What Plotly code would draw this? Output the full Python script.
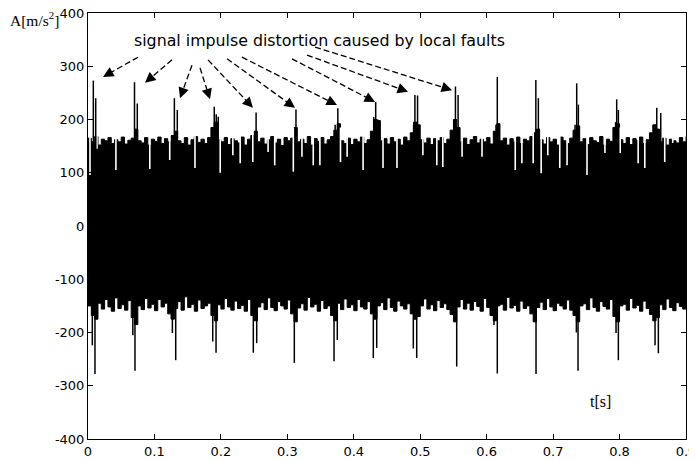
import plotly.graph_objects as go

# ---------------- data ----------------
env_step = 0.005  # s, sampling of the band envelopes
upper_env = [
    165, 158, 168, 152, 163, 160, 166, 155, 162, 158,
    167, 154, 161, 165, 182, 160, 156, 166, 152, 163,
    159, 167, 155, 164, 158, 170, 178, 160, 155, 166,
    152, 162, 168, 157, 163, 155, 166, 185, 195, 162,
    158, 166, 153, 164, 160, 156, 167, 152, 163, 170,
    178, 158, 165, 154, 162, 168, 156, 163, 151, 166,
    160, 165, 185, 158, 163, 155, 168, 152, 164, 159,
    166, 154, 162, 168, 180, 192, 160, 155, 165, 153,
    163, 158, 167, 155, 162, 178, 200, 198, 160, 164,
    154, 166, 158, 163, 152, 167, 160, 175, 195, 190,
    162, 156, 165, 153, 164, 160, 166, 155, 163, 180,
    200, 185, 158, 165, 153, 162, 168, 156, 163, 158,
    166, 154, 178, 192, 160, 165, 152, 164, 158, 167,
    155, 163, 160, 168, 175, 182, 162, 154, 166, 158,
    163, 152, 167, 160, 155, 165, 180, 188, 158, 164,
    153, 166, 160, 157, 168, 152, 163, 159, 185, 192,
    162, 155, 166, 153, 164, 160, 167, 155, 162, 175,
    190, 182, 158, 165, 152, 163, 160, 156, 166, 158, 168,
]
lower_env = [
    -150, -168, -175, -145, -156, -138, -152, -160, -135, -155,
    -148, -158, -140, -172, -185, -150, -157, -136, -154, -147,
    -159, -138, -152, -145, -165, -175, -155, -142, -158, -133,
    -153, -147, -160, -139, -155, -150, -145, -168, -178, -148,
    -156, -136, -152, -158, -141, -155, -149, -160, -138, -168,
    -178, -152, -144, -157, -135, -153, -159, -142, -150, -156,
    -139, -165, -180, -154, -146, -158, -134, -152, -147, -160,
    -140, -155, -150, -168, -178, -145, -157, -137, -153, -148,
    -159, -138, -152, -156, -142, -165, -175, -150, -144, -157,
    -135, -153, -160, -141, -150, -156, -146, -165, -175, -170,
    -150, -137, -156, -148, -159, -140, -153, -146, -157, -166,
    -180, -152, -138, -156, -145, -158, -142, -151, -160, -136,
    -153, -168, -178, -150, -147, -158, -134, -154, -149, -160,
    -141, -155, -150, -165, -180, -153, -143, -157, -136, -152,
    -159, -145, -150, -156, -139, -158, -168, -180, -150, -146,
    -157, -135, -153, -160, -142, -151, -156, -138, -170, -180,
    -150, -147, -158, -136, -154, -149, -160, -141, -155, -166,
    -178, -172, -148, -157, -137, -153, -159, -144, -151, -156, -150,
]

# narrow gaps cut into the top of the band (time, lowest value)
dip_t = [0.003, 0.0135, 0.042, 0.093, 0.123, 0.161, 0.199, 0.218, 0.229, 0.248,
         0.271, 0.281, 0.309, 0.322, 0.339, 0.349, 0.380, 0.390, 0.414, 0.444,
         0.465, 0.504, 0.525, 0.534, 0.563, 0.593, 0.643, 0.653, 0.670, 0.682,
         0.692, 0.710, 0.721, 0.751, 0.778, 0.801, 0.828, 0.838, 0.868, 0.880]
dip_v = [96, 145, 105, 107, 124, 109, 100, 133, 118, 120,
         139, 114, 102, 130, 114, 114, 120, 130, 105, 109,
         109, 133, 114, 111, 130, 130, 105, 118, 118, 99,
         133, 109, 114, 96, 137, 137, 118, 109, 120, 156]

# positive impulses (fault impacts)
pos_t = [0.008, 0.0116, 0.070, 0.0742, 0.130, 0.1344, 0.190, 0.193, 0.196,
         0.251, 0.253, 0.313, 0.372, 0.376, 0.430, 0.433, 0.436, 0.490, 0.492,
         0.496, 0.551, 0.553, 0.557, 0.614, 0.616, 0.674, 0.6778, 0.733, 0.7355,
         0.738, 0.794, 0.7957, 0.7982, 0.853, 0.856, 0.862]
pos_v = [273, 240, 270, 230, 240, 218, 224, 210, 205,
         175, 213, 219, 190, 221, 205, 233, 200, 190, 246,
         245, 200, 262, 246, 190, 280, 274, 240, 190, 268,
         228, 195, 238, 218, 190, 222, 212]

# negative impulses
neg_t = [0.0065, 0.0105, 0.0675, 0.0707, 0.127, 0.132, 0.1877, 0.1927, 0.2488,
         0.2539, 0.3105, 0.3703, 0.3752, 0.4294, 0.4345, 0.4896, 0.4947, 0.5549,
         0.611, 0.616, 0.6743, 0.735, 0.7375, 0.7947, 0.7982, 0.8534, 0.8584]
neg_v = [-224, -278, -205, -272, -201, -252, -217, -238, -238,
         -220, -257, -254, -214, -248, -229, -230, -248, -264,
         -186, -277, -278, -200, -272, -201, -252, -224, -239]

x_ticks = [0, 0.1, 0.2, 0.3, 0.4, 0.5, 0.6, 0.7, 0.8, 0.9]
x_labels = ["0", "0.1", "0.2", "0.3", "0.4", "0.5", "0.6", "0.7", "0.8", "0.9"]
y_ticks = [-400, -300, -200, -100, 0, 100, 200, 300, 400]
y_labels = ["-400", "-300", "-200", "-100", "0", "100", "200", "300", "400"]

# arrows: (tail t, tail value, head t, head value)
arrows = [
    (0.0753, 317, 0.0226, 280),
    (0.1264, 312, 0.0858, 269),
    (0.1565, 302, 0.1385, 240),
    (0.1686, 297, 0.1836, 238),
    (0.1806, 312, 0.2483, 222),
    (0.2092, 314, 0.3116, 222),
    (0.2318, 317, 0.3748, 227),
    (0.3070, 314, 0.4320, 233),
    (0.3296, 321, 0.4816, 252),
    (0.3417, 336, 0.5479, 255),
]
title_text = "signal impulse distortion caused by local faults"

# ---------------- figure ----------------
# the page body has an 8 px margin, so the figure is 8 px smaller each way
W, H = 689, 453
ML, MR, MT, MB = 80, 11, 5, 22
x_range = [0, 0.9]
y_range = [-400, 400]
px_per_x = (W - ML - MR) / (x_range[1] - x_range[0])
px_per_y = (H - MT - MB) / (y_range[1] - y_range[0])

t_env = [round(i * env_step, 4) for i in range(len(upper_env))]

fig = go.Figure()
fig.add_trace(go.Scatter(x=t_env, y=lower_env, mode="lines",
                         line=dict(color="black", width=1, shape="hv"),
                         hoverinfo="skip", showlegend=False))
fig.add_trace(go.Scatter(x=t_env, y=upper_env, mode="lines", fill="tonexty",
                         fillcolor="black",
                         line=dict(color="black", width=1, shape="hv"),
                         hoverinfo="skip", showlegend=False))


def segs(ts, vs, base):
    xs, ys = [], []
    for t, v in zip(ts, vs):
        xs += [t, t, None]
        ys += [base, v, None]
    return xs, ys


dx, dy = segs(dip_t, dip_v, 185)
fig.add_trace(go.Scatter(x=dx, y=dy, mode="lines",
                         line=dict(color="white", width=1.6),
                         hoverinfo="skip", showlegend=False))
px_, py_ = segs(pos_t, pos_v, 140)
fig.add_trace(go.Scatter(x=px_, y=py_, mode="lines",
                         line=dict(color="black", width=1.5),
                         hoverinfo="skip", showlegend=False))
nx_, ny_ = segs(neg_t, neg_v, -130)
fig.add_trace(go.Scatter(x=nx_, y=ny_, mode="lines",
                         line=dict(color="black", width=1.5),
                         hoverinfo="skip", showlegend=False))

annotations = []
shapes = []
for tt, tv, ht, hv in arrows:
    ddx = (tt - ht) * px_per_x
    ddy = (tv - hv) * px_per_y
    ln = (ddx ** 2 + ddy ** 2) ** 0.5
    f = 9.0 / ln
    bt = ht + (tt - ht) * f
    bv = hv + (tv - hv) * f
    shapes.append(dict(type="line", xref="x", yref="y", x0=tt, y0=tv, x1=bt, y1=bv,
                       line=dict(color="black", width=1.3, dash="6px,3px")))
    annotations.append(dict(x=ht, y=hv, ax=bt, ay=bv, xref="x", yref="y",
                            axref="x", ayref="y", text="", showarrow=True,
                            arrowhead=2, arrowsize=1.5, arrowwidth=1.4,
                            arrowcolor="black", standoff=0))

annotations.append(dict(x=0.3477, y=349, xref="x", yref="y", text=title_text,
                        showarrow=False, xanchor="center", yanchor="middle",
                        font=dict(family="DejaVu Sans", size=15.8, color="black")))
annotations.append(dict(x=-0.1338, y=0.986, xref="paper", yref="paper",
                        text="A[m/s<sup>2</sup>]", showarrow=False,
                        xanchor="left", yanchor="middle",
                        font=dict(family="Liberation Serif", size=15.5, color="black")))
annotations.append(dict(x=0.772, y=-330, xref="x", yref="y", text="t[s]",
                        showarrow=False, xanchor="center", yanchor="middle",
                        font=dict(family="Liberation Serif", size=16, color="black")))

axis_common = dict(showline=True, linecolor="black", linewidth=1, mirror="allticks",
                   ticks="inside", ticklen=5, tickcolor="black", showgrid=False,
                   zeroline=False, automargin=False, ticklabeloverflow="allow",
                   tickfont=dict(family="DejaVu Sans", size=13, color="black"))

fig.update_layout(
    width=W, height=H,
    margin=dict(l=ML, r=MR, t=MT, b=MB, autoexpand=False),
    paper_bgcolor="white", plot_bgcolor="white",
    xaxis=dict(range=x_range, tickvals=x_ticks, ticktext=x_labels, **axis_common),
    yaxis=dict(range=y_range, tickvals=y_ticks, ticktext=y_labels, **axis_common),
    annotations=annotations, shapes=shapes, showlegend=False,
)

fig.write_html("out.html")
